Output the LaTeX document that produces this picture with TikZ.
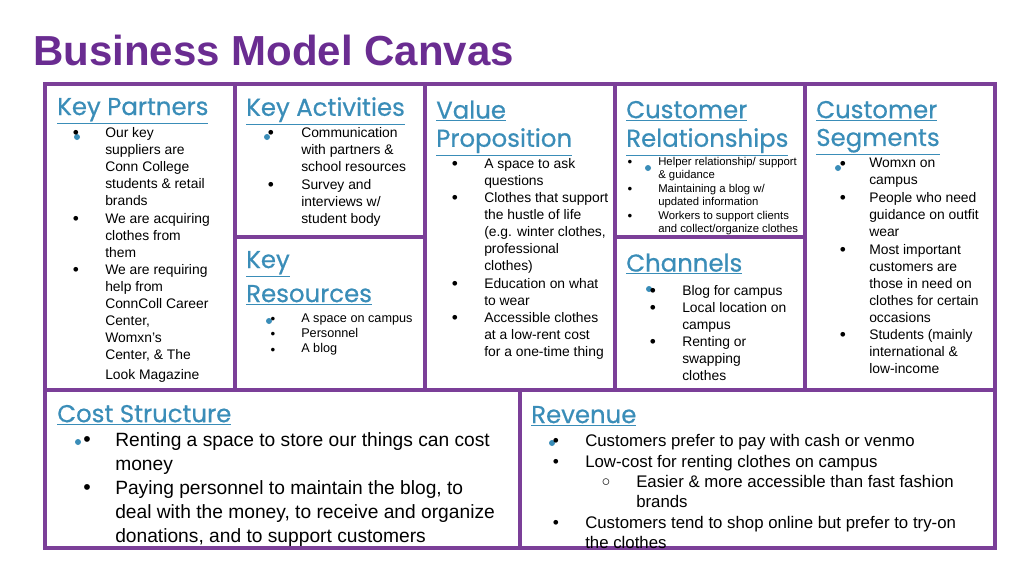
\documentclass[tikz,border=0pt]{standalone}
\usepackage{fontspec}
\setmainfont{Liberation Sans}
\newfontfamily\headfont[FakeBold=0.6]{Poppins}
\definecolor{pur}{HTML}{7B3F98}
\definecolor{ttl}{HTML}{6A2C91}
\definecolor{hd}{HTML}{3A8DB8}
\begin{document}
\begin{tikzpicture}[x=0.75pt,y=-0.75pt,
  frame/.style={draw=pur,line width=2.4pt},
  head/.style={anchor=west,inner sep=0pt,text=hd,font=\headfont\fontsize{18.3}{20}\selectfont},
  tA/.style={anchor=north west,inner sep=0pt,align=left,font=\fontsize{10.4}{12.75}\selectfont},
  tS/.style={anchor=north west,inner sep=0pt,align=left,font=\fontsize{8.5}{10.1}\selectfont},
  tR/.style={anchor=north west,inner sep=0pt,align=left,font=\fontsize{9.5}{11.6}\selectfont},
  tB/.style={anchor=north west,inner sep=0pt,align=left,font=\fontsize{14.4}{18}\selectfont},
  tV/.style={anchor=north west,inner sep=0pt,align=left,font=\fontsize{12.6}{15.4}\selectfont},
  bul/.style={inner sep=0pt,font=\fontsize{13}{14}\selectfont},
  sbul/.style={inner sep=0pt,font=\fontsize{10}{10}\selectfont},
  dot/.style={circle,fill=hd,inner sep=0pt,minimum size=4.5pt}]
\useasboundingbox (0,0) rectangle (1024,576);
\node[anchor=west,inner sep=0pt,text=ttl,font=\bfseries\fontsize{31.5}{34}\selectfont] (title) at (33,50) {Business Model Canvas};
% frames
\draw[frame] (45,84) rectangle (995,548);
\draw[frame] (235,84) -- (235,390) (425,84) -- (425,390) (615,84) -- (615,390) (805,84) -- (805,390);
\draw[frame] (45,390) -- (995,390) (520,390) -- (520,548);
\draw[frame] (235,237) -- (425,237) (615,237) -- (805,237);
% headings
\node[head] (h1) at (57,111) {\underline{Key Partners}};
\node[head] (h2) at (246,111) {\underline{Key Activities}};
\node[head] (h3) at (436,111) {\underline{Value}};
\node[head] (h3b) at (436,142) {\underline{Proposition}};
\node[head] (h4) at (626,111) {\underline{Customer}};
\node[head] (h4b) at (626,142) {\underline{Relationships}};
\node[head] (h5) at (816,111) {\underline{Customer}};
\node[head] (h5b) at (816,142) {\underline{Segments}};
\node[head] (h6) at (246,264) {\underline{Key}};
\node[head] (h6b) at (246,295) {\underline{Resources}};
\node[head] (h7) at (626,264) {\underline{Channels}};
\node[head] (h8) at (57,415) {\underline{Cost Structure}};
\node[head] (h9) at (531,416) {\underline{Revenue}};
% Key partners
\node[dot] (d1) at (77,137) {};
\foreach \y in {134,220,271} \node[bul] at (76,\y) {•};
\node[tA] (kp1) at (105,127) {Our key\\suppliers are\\Conn College\\students \& retail\\brands};
\node[tA] (kp2) at (105,213) {We are acquiring\\clothes from\\them};
\node[tA] (kp3) at (105,264) {We are requiring\\help from\\ConnColl Career\\Center,\\Womxn’s\\Center, \& The};
\node[tA] (kp4) at (105,369) {Look Magazine};
% Key activities
\node[dot] (d2) at (267,137) {};
\foreach \y in {134,186} \node[bul] at (271,\y) {•};
\node[tA] (ka1) at (301,127) {Communication\\with partners \&\\school resources};
\node[tA] (ka2) at (301,179) {Survey and\\interviews w/\\student body};
% Key resources
\node[dot] (d3) at (269,321) {};
\foreach \y in {320,335,351} \node[sbul] at (273,\y) {•};
\node[tR] (kr) at (301,314) {A space on campus\\[-0.6pt]Personnel\\[-0.6pt]A blog};
% Value proposition
\foreach \y in {165,199,285,319} \node[bul] at (455,\y) {•};
\node[tA] (vp1) at (484,158) {A space to ask\\questions};
\node[tA] (vp2) at (484,192) {Clothes that support\\the hustle of life\\(e.g. winter clothes,\\professional\\clothes)};
\node[tA] (vp3) at (484,278) {Education on what\\to wear};
\node[tA] (vp4) at (484,312) {Accessible clothes\\at a low-rent cost\\for a one-time thing};
% Customer relationships
\node[dot] (d4) at (648,168) {};
\foreach \y in {163,190,217} \node[sbul] at (630,\y) {•};
\node[tS] (cr1) at (658,157) {Helper relationship/ support\\\& guidance};
\node[tS] (cr2) at (658,184) {Maintaining a blog w/\\updated information};
\node[tS] (cr3) at (658,211) {Workers to support clients\\and collect/organize clothes};
% Channels
\node[dot] (d5) at (649,289) {};
\foreach \y in {292,309,343} \node[bul] at (653,\y) {•};
\node[tA] (ch1) at (682,285) {Blog for campus};
\node[tA] (ch2) at (682,302) {Local location on\\campus};
\node[tA] (ch3) at (682,336) {Renting or\\swapping\\clothes};
% Customer segments
\node[dot] (d6) at (838,168) {};
\foreach \y in {165,199,251,336} \node[bul] at (843,\y) {•};
\node[tA] (cs1) at (869,158) {Womxn on\\campus};
\node[tA] (cs2) at (869,192) {People who need\\guidance on outfit\\wear};
\node[tA] (cs3) at (869,244) {Most important\\customers are\\those in need on\\clothes for certain\\occasions};
\node[tA] (cs4) at (869,329) {Students (mainly\\international \&\\low-income};
% Cost structure
\node[dot] (d7) at (78,442) {};
\foreach \y in {442,490} \node[bul,font=\fontsize{16}{16}\selectfont] at (87,\y) {•};
\node[tB] (c1) at (115,432) {Renting a space to store our things can cost\\money};
\node[tB] (c2) at (115,480) {Paying personnel to maintain the blog, to\\deal with the money, to receive and organize\\donations, and to support customers};
% Revenue
\node[dot] (d8) at (552,443) {};
\foreach \y in {442,463,524} \node[bul] at (556,\y) {•};
\node[bul,font=\fontsize{11}{12}\selectfont] at (606,483) {○};
\node[tV] (r1) at (585,434) {Customers prefer to pay with cash or venmo};
\node[tV] (r2) at (585,455) {Low-cost for renting clothes on campus};
\node[tV] (r3) at (636,475) {Easier \& more accessible than fast fashion\\brands};
\node[tV] (r4) at (585,516) {Customers tend to shop online but prefer to try-on\\the clothes};
\end{tikzpicture}
\end{document}
